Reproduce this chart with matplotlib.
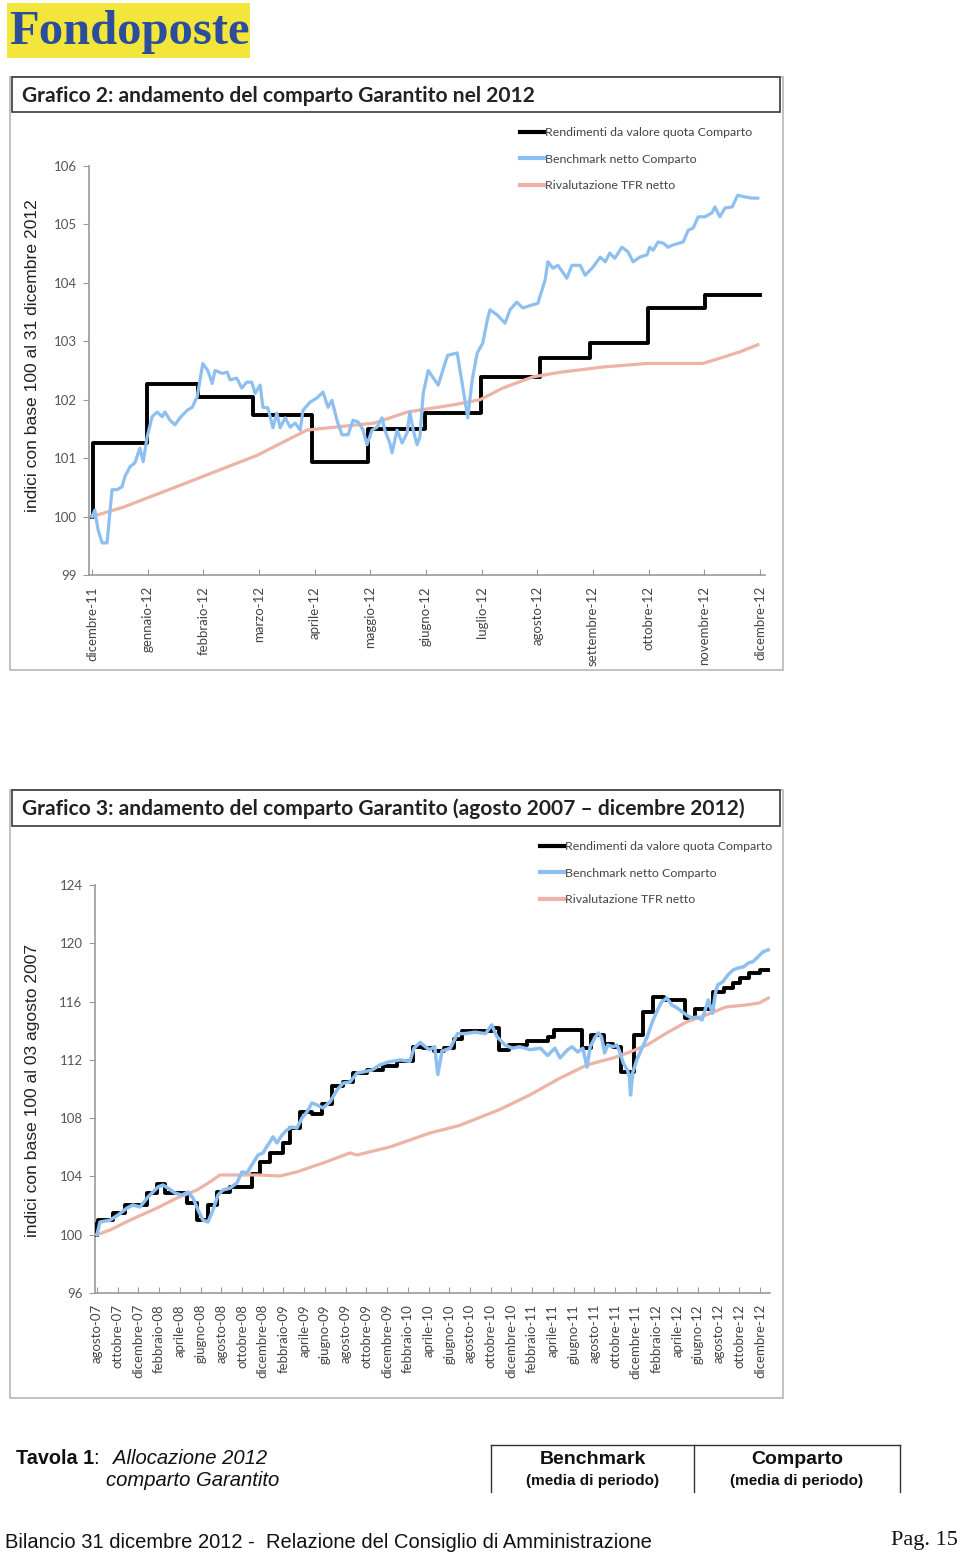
import matplotlib
matplotlib.use("Agg")
import matplotlib.pyplot as plt
from matplotlib.patches import Rectangle
from matplotlib.lines import Line2D

W, H = 960, 1556

# ---------------- Chart 2 data (x = months since dicembre-11) ----------------
c2_months = ["dicembre-11", "gennaio-12", "febbraio-12", "marzo-12", "aprile-12", "maggio-12",
             "giugno-12", "luglio-12", "agosto-12", "settembre-12", "ottobre-12",
             "novembre-12", "dicembre-12"]
c2_black_x = [0, 0.02, 0.99, 1.91, 2.89, 3.95, 4.96, 5.98, 6.99, 8.05, 8.95, 9.99, 11.01, 12.0]
c2_black_y = [100.0, 101.26, 102.27, 102.05, 101.74, 100.94, 101.50, 101.77, 102.39, 102.72,
              102.97, 103.57, 103.79, 103.79]
c2_blue_x = [0, 0.05, 0.11, 0.18, 0.27, 0.36, 0.45, 0.54, 0.59, 0.68, 0.77, 0.86, 0.92, 0.99,
             1.08, 1.17, 1.26, 1.31, 1.40, 1.49, 1.58, 1.71, 1.80, 1.89, 1.94, 1.99, 2.08, 2.16,
             2.21, 2.34, 2.43, 2.48, 2.60, 2.69, 2.78, 2.87, 2.93, 3.02, 3.07, 3.16, 3.25, 3.32,
             3.38, 3.47, 3.56, 3.65, 3.74, 3.79, 3.92, 4.04, 4.15, 4.24, 4.31, 4.40, 4.49, 4.60,
             4.69, 4.78, 4.87, 4.94, 5.03, 5.12, 5.21, 5.26, 5.35, 5.39, 5.48, 5.57, 5.66, 5.71,
             5.77, 5.84, 5.89, 5.95, 6.04, 6.22, 6.34, 6.39, 6.56, 6.65, 6.75, 6.83, 6.92, 7.02,
             7.10, 7.15, 7.28, 7.42, 7.51, 7.63, 7.74, 7.90, 8.01, 8.14, 8.19, 8.28, 8.37, 8.53,
             8.62, 8.77, 8.86, 9.00, 9.13, 9.22, 9.30, 9.39, 9.52, 9.63, 9.72, 9.84, 9.97, 10.02,
             10.08, 10.17, 10.26, 10.35, 10.44, 10.62, 10.71, 10.80, 10.89, 11.01, 11.14, 11.19,
             11.28, 11.37, 11.50, 11.60, 11.73, 11.86, 11.96]
c2_blue_y = [100.0, 100.11, 99.77, 99.55, 99.55, 100.46, 100.46, 100.51, 100.68, 100.85, 100.92,
             101.17, 100.94, 101.36, 101.71, 101.79, 101.71, 101.79, 101.65, 101.57, 101.69,
             101.82, 101.87, 102.05, 102.34, 102.62, 102.50, 102.28, 102.50, 102.45, 102.47,
             102.34, 102.37, 102.20, 102.30, 102.30, 102.11, 102.25, 101.87, 101.86, 101.52,
             101.77, 101.52, 101.69, 101.53, 101.60, 101.48, 101.82, 101.96, 102.03, 102.13,
             101.87, 101.99, 101.65, 101.40, 101.40, 101.65, 101.62, 101.48, 101.23, 101.48,
             101.53, 101.69, 101.48, 101.26, 101.09, 101.48, 101.26, 101.43, 101.79, 101.48,
             101.23, 101.36, 102.11, 102.50, 102.25, 102.62, 102.76, 102.80, 102.28, 101.69,
             102.34, 102.80, 102.97, 103.36, 103.54, 103.45, 103.31, 103.54, 103.67, 103.57,
             103.62, 103.65, 104.05, 104.36, 104.25, 104.30, 104.08, 104.30, 104.30, 104.13,
             104.27, 104.44, 104.36, 104.51, 104.42, 104.61, 104.53, 104.36, 104.44, 104.48,
             104.61, 104.56, 104.70, 104.68, 104.61, 104.65, 104.70, 104.90, 104.94, 105.13,
             105.13, 105.20, 105.30, 105.13, 105.28, 105.30, 105.50, 105.47, 105.45, 105.45]
c2_tfr_x = [0, 0.56, 1.76, 2.97, 3.86, 4.76, 5.07, 5.67, 6.48, 6.97, 7.38, 7.92, 8.41, 9.18,
            9.97, 10.97, 11.28, 11.64, 11.96]
c2_tfr_y = [100.0, 100.16, 100.60, 101.05, 101.48, 101.57, 101.60, 101.79, 101.91, 102.00,
            102.20, 102.39, 102.47, 102.56, 102.62, 102.62, 102.71, 102.82, 102.94]

# ---------------- Chart 3 data (x = months since agosto-07) ----------------
c3_months = ["agosto-07", "ottobre-07", "dicembre-07", "febbraio-08", "aprile-08", "giugno-08",
             "agosto-08", "ottobre-08", "dicembre-08", "febbraio-09", "aprile-09", "giugno-09",
             "agosto-09", "ottobre-09", "dicembre-09", "febbraio-10", "aprile-10", "giugno-10",
             "agosto-10", "ottobre-10", "dicembre-10", "febbraio-11", "aprile-11", "giugno-11",
             "agosto-11", "ottobre-11", "dicembre-11", "febbraio-12", "aprile-12", "giugno-12",
             "agosto-12", "ottobre-12", "dicembre-12"]
c3_black_x = [0, 0.05, 0.13, 1.58, 2.70, 4.8, 5.76, 6.56, 8.65, 9.62, 10.75, 11.55, 12.84, 14.93,
              15.73, 16.7, 17.98, 18.63, 19.6, 20.72, 21.69, 22.65, 23.78, 24.74, 26.03, 27.64,
              29.0, 30.5, 31.5, 32.5, 33.5, 34.5, 35.2, 38.2, 38.8, 39.8, 41.5, 43.5, 44.1, 46.8,
              47.7, 48.9, 49.8, 50.6, 51.8, 52.7, 53.7, 54.7, 56.8, 57.7, 59.5, 60.5, 61.4, 62.1,
              62.9, 64.0, 64.8]
c3_black_y = [100.0, 100.8, 101.0, 101.5, 102.05, 102.86, 103.5, 102.86, 102.2, 101.0, 102.05,
              102.93, 103.28, 104.2, 105.0, 105.6, 106.3, 107.3, 108.4, 108.3, 109.0, 110.2,
              110.5, 111.1, 111.3, 111.6, 111.9, 112.9, 112.8, 112.6, 112.8, 113.4, 114.0, 114.2,
              112.7, 113.0, 113.3, 113.6, 114.05, 112.8, 113.7, 113.1, 112.9, 111.16, 113.7,
              115.3, 116.3, 116.1, 114.87, 115.5, 116.66, 116.9, 117.3, 117.6, 117.95, 118.17,
              118.17]
c3_blue_x = [0, 0.29, 1.25, 2.03, 2.9, 3.47, 4.15, 4.92, 5.41, 5.89, 6.37, 6.85, 7.53, 8.2, 8.78,
             9.27, 9.75, 10.23, 10.71, 11.2, 11.68, 12.16, 12.84, 13.5, 14.0, 14.48, 15.06, 15.54,
             16.02, 16.5, 16.99, 17.37, 17.86, 18.34, 18.82, 19.3, 19.79, 20.27, 20.75, 21.24,
             21.81, 22.49, 23.17, 23.75, 24.42, 25.1, 25.68, 26.54, 27.3, 28.1, 29.25, 30.2, 30.6,
             31.2, 31.7, 32.1, 32.6, 32.9, 33.3, 34.1, 34.8, 35.5, 36.5, 37.5, 38.1, 38.6, 39.4,
             40.1, 40.8, 41.8, 42.8, 43.5, 44.2, 44.7, 45.4, 45.85, 46.4, 46.9, 47.3, 47.6, 48.1,
             48.4, 48.7, 49.0, 49.3, 49.8, 50.2, 50.5, 50.8, 51.2, 51.4, 51.5, 51.7, 52.1, 52.6,
             53.1, 53.6, 54.1, 54.5, 55.0, 55.5, 56.0, 56.5, 56.9, 57.4, 57.9, 58.4, 58.7, 59.0,
             59.4, 59.7, 59.9, 60.4, 60.9, 61.4, 61.9, 62.4, 62.9, 63.3, 63.8, 64.3, 64.8]
c3_blue_y = [100.0, 100.87, 101.0, 101.35, 101.83, 102.04, 101.9, 102.59, 102.93, 103.28, 103.41,
             103.2, 102.86, 102.72, 102.93, 102.52, 101.7, 101.0, 100.87, 101.7, 102.72, 103.07,
             103.2, 103.55, 104.31, 104.24, 104.92, 105.47, 105.61, 106.16, 106.71, 106.3, 106.84,
             107.19, 107.39, 107.32, 108.01, 108.43, 109.04, 108.9, 108.7, 109.11, 109.93, 110.4,
             110.48, 111.1, 111.17, 111.3, 111.65, 111.85, 112.0, 111.9, 112.8, 113.2, 112.9,
             112.7, 112.9, 111.0, 112.6, 112.8, 113.8, 113.8, 113.9, 113.8, 114.4, 113.6, 113.0,
             112.8, 112.9, 112.7, 112.8, 112.3, 112.8, 112.13, 112.68, 112.9, 112.54, 112.8,
             111.5, 112.9, 113.57, 113.85, 113.57, 112.47, 113.02, 112.9, 113.02, 112.47, 111.78,
             111.3, 110.82, 109.59, 111.1, 111.99, 112.8, 113.57, 114.6, 115.42, 115.97, 116.24,
             115.76, 115.56, 115.29, 115.08, 114.87, 114.94, 114.74, 115.42, 116.11, 115.2,
             116.59, 117.14, 117.35, 117.83, 118.17, 118.31, 118.38, 118.66, 118.73, 119.07,
             119.42, 119.55]
c3_tfr_x = [0, 1.25, 3.19, 5.79, 7.72, 9.65, 10.9, 11.87, 13.5, 15.4, 17.66, 19.3, 21.81, 24.42,
            25.1, 28.28, 32.1, 35.0, 38.9, 41.8, 44.7, 47.3, 49.8, 51.2, 53.1, 55.0, 56.9, 58.8,
            60.7, 62.6, 63.9, 64.8]
c3_tfr_y = [100.0, 100.32, 101.0, 101.83, 102.52, 103.07, 103.62, 104.1, 104.1, 104.1, 104.03,
            104.31, 104.92, 105.61, 105.47, 106.02, 106.97, 107.5, 108.6, 109.6, 110.75, 111.65,
            112.13, 112.47, 113.02, 113.85, 114.6, 115.08, 115.63, 115.76, 115.9, 116.24]

legend_labels = ["Rendimenti da valore quota Comparto", "Benchmark netto Comparto",
                 "Rivalutazione TFR netto"]

BLACK = "#000000"
BLUE = "#8DC0F0"
PINK = "#EDB3A6"
CH_FONT = "Lato"

fig = plt.figure(figsize=(W / 100, H / 100), dpi=100)
bg = fig.add_axes([0, 0, 1, 1], zorder=0)
bg.set_xlim(0, W)
bg.set_ylim(H, 0)
bg.axis("off")


def axes_px(left, top, right, bottom):
    return fig.add_axes([left / W, 1 - bottom / H, (right - left) / W, (bottom - top) / H],
                        zorder=2, facecolor="none")


# ---------------- Logo ----------------
bg.add_patch(Rectangle((7, 3), 243, 55, facecolor="#F2E63A", edgecolor="none"))
bg.text(9, 32, "Fondoposte", fontsize=35, fontweight="bold", color="#2C4C9C",
        family="Liberation Serif", va="center", ha="left")


def chart_frame(top, title_bottom, bottom, title):
    bg.add_patch(Rectangle((10, top), 773, bottom - top, facecolor="none",
                           edgecolor="#B8B8B8", lw=1.2))
    bg.add_patch(Rectangle((12, top), 768, title_bottom - top, facecolor="white",
                           edgecolor="#3A3A3A", lw=1.2))
    bg.text(22, (top + title_bottom) / 2 + 1, title, fontsize=15.1, fontweight="bold",
            family=CH_FONT, color="#222222", va="center", ha="left")


def style_axes(ax):
    for s in ["top", "right"]:
        ax.spines[s].set_visible(False)
    for s in ["left", "bottom"]:
        ax.spines[s].set_color("#9A9A9A")
        ax.spines[s].set_linewidth(1.2)
    ax.tick_params(axis="y", direction="out", length=4, color="#9A9A9A", labelsize=9.5,
                   labelcolor="#555555", pad=5)
    ax.tick_params(axis="x", direction="in", length=4, color="#9A9A9A", labelsize=9.5,
                   labelcolor="#444444", pad=8)
    for lab in ax.get_xticklabels() + ax.get_yticklabels():
        lab.set_family(CH_FONT)


def legend(ax, x, y):
    handles = [Line2D([], [], color=BLACK, lw=3), Line2D([], [], color=BLUE, lw=3),
               Line2D([], [], color=PINK, lw=3)]
    lg = ax.legend(handles, legend_labels, loc="upper left", bbox_to_anchor=(x / W, 1 - y / H),
                   bbox_transform=fig.transFigure, frameon=False, handlelength=1.9,
                   handletextpad=0.1, labelspacing=1.25, borderpad=0,
                   prop={"family": CH_FONT, "size": 8.9})
    for t in lg.get_texts():
        t.set_color("#444444")


# ---------------- Chart 2 ----------------
chart_frame(77, 112, 670, "Grafico 2: andamento del comparto Garantito nel 2012")
ax2 = axes_px(89, 166, 765, 575)
ax2.plot(c2_black_x, c2_black_y, color=BLACK, lw=2.8, drawstyle="steps-post", zorder=3)
ax2.plot(c2_tfr_x, c2_tfr_y, color=PINK, lw=2.3, zorder=4)
ax2.plot(c2_blue_x, c2_blue_y, color=BLUE, lw=2.3, zorder=5)
ax2.set_ylim(99, 106)
ax2.set_yticks(range(99, 107))
ax2.set_xlim(-0.054, 12.09)
ax2.set_xticks(range(len(c2_months)))
ax2.set_xticklabels(c2_months, rotation=90, va="top", ha="center")
style_axes(ax2)
legend(ax2, 514, 121)
bg.text(33, 356, "indici con base 100 al 31 dicembre 2012", rotation=90, fontsize=12.6,
        family="Liberation Sans", color="#222222", va="center", ha="center")

# ---------------- Chart 3 ----------------
chart_frame(790, 826, 1398,
            "Grafico 3: andamento del comparto Garantito (agosto 2007 \u2013 dicembre 2012)")
ax3 = axes_px(95, 885, 770, 1293)
ax3.plot(c3_black_x, c3_black_y, color=BLACK, lw=2.8, drawstyle="steps-post", zorder=3)
ax3.plot(c3_tfr_x, c3_tfr_y, color=PINK, lw=2.3, zorder=4)
ax3.plot(c3_blue_x, c3_blue_y, color=BLUE, lw=2.5, zorder=5)
ax3.set_ylim(96, 124)
ax3.set_yticks(range(96, 125, 4))
ax3.set_xlim(-0.19, 64.96)
ax3.set_xticks(range(0, 2 * len(c3_months), 2))
ax3.set_xticklabels(c3_months, rotation=90, va="top", ha="center")
style_axes(ax3)
legend(ax3, 534, 835)
bg.text(33, 1090, "indici con base 100 al 03 agosto 2007", rotation=90, fontsize=12.6,
        family="Liberation Sans", color="#222222", va="center", ha="center")

# ---------------- Tavola 1 ----------------
bg.text(16, 1458, "Tavola 1", fontsize=14.3, fontweight="bold", family="Liberation Sans",
        va="center", ha="left", color="#111111")
bg.text(93, 1458, ":", fontsize=14.3, family="Liberation Sans", va="center", ha="left")
bg.text(113, 1458, "Allocazione 2012", fontsize=14.6, style="italic", family="Liberation Sans",
        va="center", ha="left", color="#111111")
bg.text(106, 1481, "comparto Garantito", fontsize=14.6, style="italic", family="Liberation Sans",
        va="center", ha="left", color="#111111")
bg.plot([491, 900], [1445, 1445], color="#333333", lw=1)
for xv in [491, 694, 900]:
    bg.plot([xv, xv], [1445, 1492], color="#333333", lw=1)
for cx, name in [(593, "Benchmark"), (797, "Comparto")]:
    bg.text(cx, 1460, name, fontsize=14, fontweight="bold", family="Liberation Sans",
            va="center", ha="center", color="#111111")
    bg.text(cx, 1481, "(media di periodo)", fontsize=11, fontweight="bold",
            family="Liberation Sans", va="center", ha="center", color="#111111")

# ---------------- Footer ----------------
bg.text(5, 1543, "Bilancio 31 dicembre 2012 -  Relazione del Consiglio di Amministrazione",
        fontsize=14.5, family="Liberation Sans", va="center", ha="left", color="#111111")
bg.text(958, 1540, "Pag. 15", fontsize=16, family="Liberation Serif", va="center", ha="right",
        color="#111111")

fig.savefig("out.png", dpi=100)
